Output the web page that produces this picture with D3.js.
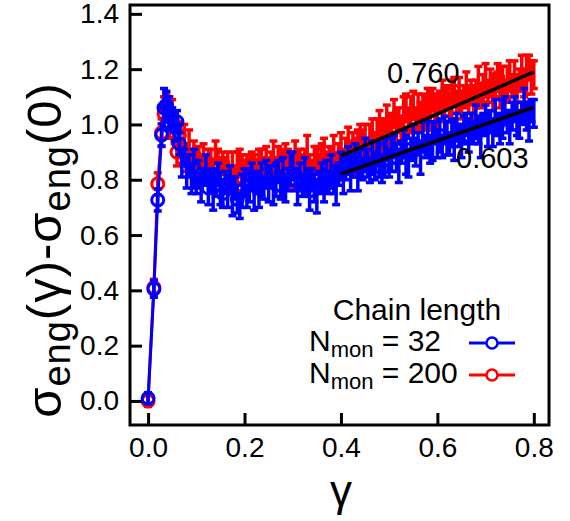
<!DOCTYPE html>
<html>
<head>
<meta charset="utf-8">
<script src="https://cdn.jsdelivr.net/npm/d3@7"></script>
<style>
  body { margin: 0; background: #fff; }
  svg { font-family: "Liberation Sans", Arial, Helvetica, sans-serif; }
</style>
</head>
<body>
<div id="chart"></div>
<script>
// strain values of the first (start-up) points
var gammaEarly = [0, 0.012, 0.02, 0.028, 0.033, 0.038, 0.044, 0.05, 0.055, 0.06];
// the rest is sampled every 0.005 from 0.065 to 0.8
var gammaDense = d3.range(0.065, 0.8001, 0.005);

// N_mon = 32 (blue)
var blueEarly = [0.01, 0.405, 0.727, 0.962, 1.06, 1.07, 1.04, 1.02, 0.99, 1.01];
var blueEarlyErr = [0.02, 0.03, 0.04, 0.04, 0.07, 0.05, 0.06, 0.04, 0.05, 0.04];
var blueDense = [
  0.93, 0.86, 0.88, 0.83, 0.85, 0.80, 0.84, 0.79, 0.82, 0.78,
  0.81, 0.84, 0.77, 0.80, 0.76, 0.79, 0.82, 0.77, 0.75, 0.79,
  0.76, 0.80, 0.74, 0.77, 0.73, 0.70, 0.76, 0.79, 0.74, 0.78,
  0.81, 0.76, 0.79, 0.75, 0.80, 0.77, 0.82, 0.78, 0.81, 0.76,
  0.80, 0.83, 0.78, 0.81, 0.77, 0.80, 0.84, 0.85, 0.80, 0.77,
  0.81, 0.78, 0.82, 0.79, 0.76, 0.80, 0.77, 0.74, 0.79, 0.81,
  0.78, 0.82, 0.79, 0.83, 0.80, 0.78, 0.82, 0.85, 0.81, 0.84,
  0.87, 0.82, 0.85, 0.88, 0.83, 0.86, 0.84, 0.89, 0.86, 0.83,
  0.88, 0.85, 0.90, 0.87, 0.84, 0.88, 0.91, 0.86, 0.89, 0.92,
  0.88, 0.85, 0.90, 0.93, 0.89, 0.86, 0.91, 0.94, 0.90, 0.93,
  0.88, 0.96, 0.92, 0.95, 0.91, 0.94, 0.97, 0.93, 0.96, 0.92,
  0.98, 0.95, 0.93, 0.97, 0.94, 0.99, 0.96, 0.94, 0.98, 1.00,
  0.96, 0.99, 0.97, 1.01, 0.98, 0.95, 1.00, 1.02, 0.98, 1.01,
  0.97, 1.03, 1.00, 0.98, 1.02, 1.05, 1.01, 0.99, 1.03, 1.06,
  1.02, 1.00, 1.04, 1.07, 1.03, 1.01, 1.05, 1.04
];
var blueDenseErr = [
  0.04, 0.05, 0.03, 0.06, 0.04, 0.05, 0.07, 0.04, 0.05, 0.06,
  0.03, 0.05, 0.06, 0.04, 0.07, 0.05, 0.04, 0.06, 0.05, 0.04,
  0.06, 0.05, 0.07, 0.04, 0.05, 0.04, 0.06, 0.05, 0.04, 0.06,
  0.05, 0.07, 0.04, 0.05, 0.06, 0.04, 0.05, 0.06, 0.04, 0.05,
  0.06, 0.04, 0.05, 0.07, 0.05, 0.04, 0.06, 0.05, 0.04, 0.06,
  0.05, 0.04, 0.06, 0.05, 0.07, 0.04, 0.05, 0.06, 0.04, 0.05,
  0.06, 0.05, 0.04, 0.06, 0.05, 0.07, 0.04, 0.05, 0.06, 0.04,
  0.05, 0.06, 0.04, 0.05, 0.07, 0.05, 0.04, 0.06, 0.05, 0.04,
  0.06, 0.05, 0.04, 0.06, 0.05, 0.07, 0.04, 0.05, 0.06, 0.04,
  0.05, 0.06, 0.04, 0.05, 0.07, 0.05, 0.04, 0.06, 0.05, 0.04,
  0.06, 0.05, 0.04, 0.06, 0.05, 0.07, 0.04, 0.05, 0.06, 0.04,
  0.05, 0.06, 0.04, 0.05, 0.07, 0.05, 0.04, 0.06, 0.05, 0.04,
  0.06, 0.05, 0.04, 0.06, 0.05, 0.07, 0.04, 0.05, 0.06, 0.04,
  0.05, 0.06, 0.04, 0.05, 0.07, 0.05, 0.04, 0.06, 0.05, 0.04,
  0.06, 0.05, 0.04, 0.06, 0.05, 0.07, 0.04, 0.05
];

// N_mon = 200 (red)
var redEarly = [0.0, 0.41, 0.785, 0.97, 1.04, 1.06, 1.0, 1.03, 0.97, 0.90];
var redEarlyErr = [0.02, 0.03, 0.04, 0.05, 0.06, 0.05, 0.05, 0.06, 0.04, 0.05];
var redDense = [
  0.96, 0.90, 0.94, 0.88, 0.91, 0.86, 0.89, 0.85, 0.88, 0.84,
  0.87, 0.83, 0.86, 0.84, 0.82, 0.90, 0.85, 0.83, 0.86, 0.82,
  0.85, 0.81, 0.84, 0.80, 0.83, 0.87, 0.84, 0.81, 0.85, 0.82,
  0.86, 0.83, 0.80, 0.84, 0.87, 0.83, 0.86, 0.82, 0.85, 0.88,
  0.84, 0.87, 0.83, 0.86, 0.89, 0.85, 0.82, 0.86, 0.88, 0.84,
  0.87, 0.83, 0.86, 0.89, 0.85, 0.82, 0.86, 0.88, 0.84, 0.87,
  0.90, 0.86, 0.83, 0.87, 0.89, 0.85, 0.88, 0.91, 0.87, 0.90,
  0.93, 0.89, 0.92, 0.88, 0.93, 0.96, 0.92, 0.95, 0.91, 0.94,
  0.97, 0.93, 0.96, 1.00, 0.95, 0.98, 1.02, 0.97, 1.00, 1.04,
  0.99, 1.02, 0.98, 1.03, 1.06, 1.01, 1.04, 1.07, 1.02, 1.05,
  1.03, 1.07, 1.04, 1.08, 1.05, 1.09, 1.06, 1.04, 1.08, 1.11,
  1.07, 1.10, 1.06, 1.09, 1.12, 1.08, 1.11, 1.07, 1.10, 1.13,
  1.09, 1.12, 1.08, 1.11, 1.14, 1.10, 1.13, 1.16, 1.12, 1.15,
  1.11, 1.14, 1.17, 1.13, 1.16, 1.12, 1.15, 1.18, 1.14, 1.17,
  1.13, 1.16, 1.19, 1.15, 1.18, 1.21, 1.17, 1.18
];
var redDenseErr = [
  0.05, 0.04, 0.06, 0.05, 0.07, 0.04, 0.05, 0.06, 0.04, 0.05,
  0.06, 0.04, 0.05, 0.07, 0.05, 0.04, 0.06, 0.05, 0.04, 0.06,
  0.05, 0.04, 0.06, 0.05, 0.07, 0.04, 0.05, 0.06, 0.04, 0.05,
  0.04, 0.06, 0.05, 0.07, 0.04, 0.05, 0.06, 0.04, 0.05, 0.06,
  0.04, 0.05, 0.07, 0.05, 0.04, 0.06, 0.05, 0.04, 0.06, 0.05,
  0.04, 0.06, 0.05, 0.07, 0.04, 0.05, 0.06, 0.04, 0.05, 0.06,
  0.05, 0.04, 0.06, 0.05, 0.07, 0.04, 0.05, 0.06, 0.04, 0.05,
  0.06, 0.04, 0.05, 0.07, 0.05, 0.04, 0.06, 0.05, 0.04, 0.06,
  0.05, 0.04, 0.06, 0.05, 0.07, 0.04, 0.05, 0.06, 0.04, 0.05,
  0.06, 0.04, 0.05, 0.07, 0.05, 0.04, 0.06, 0.05, 0.04, 0.06,
  0.05, 0.04, 0.06, 0.05, 0.07, 0.04, 0.05, 0.06, 0.04, 0.05,
  0.06, 0.04, 0.05, 0.07, 0.05, 0.04, 0.06, 0.05, 0.04, 0.06,
  0.05, 0.04, 0.06, 0.05, 0.07, 0.04, 0.05, 0.06, 0.04, 0.05,
  0.06, 0.04, 0.05, 0.07, 0.05, 0.04, 0.06, 0.05, 0.04, 0.06,
  0.05, 0.04, 0.06, 0.05, 0.07, 0.04, 0.06, 0.05
];

// power-law fit slopes drawn over 0.4 <= gamma <= 0.8
var fitNames = ["0.760", "0.603"];
var fitGamma = [0.4, 0.8];
var fitValues = [[0.886, 1.190], [0.821, 1.062]];

var xTicks = [0.0, 0.2, 0.4, 0.6, 0.8];
var yTicks = [0.0, 0.2, 0.4, 0.6, 0.8, 1.0, 1.2, 1.4];
var legendLabels = ["32", "200"];

function makeSeries(early, earlyErr, dense, denseErr) {
  var pts = [];
  gammaEarly.forEach(function(g, i) {
    pts.push({g: g, v: early[i], e: earlyErr[i], mark: true});
  });
  gammaDense.forEach(function(g, i) {
    pts.push({g: g, v: dense[i], e: denseErr[i], mark: i % 6 === 0});
  });
  return pts;
}

var series = [
  {name: "200", color: "#ff0000", data: makeSeries(redEarly, redEarlyErr, redDense, redDenseErr)},
  {name: "32", color: "#0000ff", data: makeSeries(blueEarly, blueEarlyErr, blueDense, blueDenseErr)}
];

var W = 570, H = 521;
var mLeft = 130, mRight = 549, mTop = 5, mBottom = 425;

var x = d3.scaleLinear().domain([-0.0375, 0.8315]).range([mLeft, mRight]);
var y = d3.scaleLinear().domain([-0.087, 1.432]).range([mBottom, mTop]);

var svg = d3.select("#chart").append("svg")
  .attr("width", W)
  .attr("height", H);

var plot = svg.append("g");

var line = d3.line()
  .x(function(d) { return x(d.g); })
  .y(function(d) { return y(d.v); });

series.forEach(function(s) {
  var g = plot.append("g");
  g.append("path")
    .datum(s.data)
    .attr("fill", "none")
    .attr("stroke", s.color)
    .attr("stroke-width", 3)
    .attr("d", line);

  // error bars
  var eb = g.selectAll(".eb").data(s.data).enter().append("g")
    .attr("stroke", s.color)
    .attr("stroke-width", 3.5);
  eb.append("line")
    .attr("x1", function(d) { return x(d.g); })
    .attr("x2", function(d) { return x(d.g); })
    .attr("y1", function(d) { return y(d.v - d.e); })
    .attr("y2", function(d) { return y(d.v + d.e); });
  eb.append("line")
    .attr("x1", function(d) { return x(d.g) - 4; })
    .attr("x2", function(d) { return x(d.g) + 4; })
    .attr("y1", function(d) { return y(d.v - d.e); })
    .attr("y2", function(d) { return y(d.v - d.e); });
  eb.append("line")
    .attr("x1", function(d) { return x(d.g) - 4; })
    .attr("x2", function(d) { return x(d.g) + 4; })
    .attr("y1", function(d) { return y(d.v + d.e); })
    .attr("y2", function(d) { return y(d.v + d.e); });

  g.selectAll("circle")
    .data(s.data.filter(function(d) { return d.mark; }))
    .enter().append("circle")
    .attr("cx", function(d) { return x(d.g); })
    .attr("cy", function(d) { return y(d.v); })
    .attr("r", 6)
    .attr("fill", "none")
    .attr("stroke", s.color)
    .attr("stroke-width", 3);
});

// fit lines
fitValues.forEach(function(fv) {
  plot.append("line")
    .attr("x1", x(fitGamma[0])).attr("y1", y(fv[0]))
    .attr("x2", x(fitGamma[1])).attr("y2", y(fv[1]))
    .attr("stroke", "#000")
    .attr("stroke-width", 3.5);
});

svg.append("text")
  .attr("x", 387).attr("y", 83)
  .attr("font-size", 29)
  .text(fitNames[0]);
svg.append("text")
  .attr("x", 456).attr("y", 168)
  .attr("font-size", 29)
  .text(fitNames[1]);

// axes
function styleAxis(g) {
  g.select(".domain").remove();
  g.selectAll("line").attr("stroke-width", 3);
  g.selectAll("text").attr("font-size", 28).attr("fill", "#000");
}

svg.append("g")
  .attr("transform", "translate(" + mLeft + ",0)")
  .call(d3.axisLeft(y).tickValues(yTicks).tickFormat(d3.format(".1f"))
    .tickSizeInner(-12).tickSizeOuter(0).tickPadding(11))
  .call(styleAxis)
  .attr("font-size", 28)
  .attr("font-family", "Liberation Sans, Arial, sans-serif");

svg.append("g")
  .attr("transform", "translate(0," + mBottom + ")")
  .call(d3.axisBottom(x).tickValues(xTicks).tickFormat(d3.format(".1f"))
    .tickSizeInner(-12).tickSizeOuter(0).tickPadding(12))
  .call(styleAxis)
  .attr("font-size", 28)
  .attr("font-family", "Liberation Sans, Arial, sans-serif");

// frame
svg.append("rect")
  .attr("x", mLeft).attr("y", mTop)
  .attr("width", mRight - mLeft).attr("height", mBottom - mTop)
  .attr("fill", "none")
  .attr("stroke", "#000")
  .attr("stroke-width", 3);

// axis titles
svg.append("text")
  .attr("x", x(0.4)).attr("y", 506)
  .attr("text-anchor", "middle")
  .attr("font-size", 44)
  .text("γ");

var yl = svg.append("text")
  .attr("transform", "translate(61,250) rotate(-90)")
  .attr("text-anchor", "middle")
  .attr("font-size", 49)
  .attr("letter-spacing", 1);
yl.append("tspan").text("σ");
yl.append("tspan").attr("font-size", 38).attr("dy", 9).text("eng");
yl.append("tspan").attr("dy", -9).text("(γ)-σ");
yl.append("tspan").attr("font-size", 38).attr("dy", 9).text("eng");
yl.append("tspan").attr("dy", -9).text("(0)");

// legend
var lg = svg.append("g");
lg.append("text")
  .attr("x", 417).attr("y", 320)
  .attr("text-anchor", "middle")
  .attr("font-size", 30)
  .text("Chain length");

var legendColors = ["#0000ff", "#ff0000"];
legendLabels.forEach(function(lab, i) {
  var yy = 351 + i * 32;
  var t = lg.append("text").attr("x", 309).attr("y", yy).attr("font-size", 30);
  t.append("tspan").text("N");
  t.append("tspan").attr("font-size", 22).attr("dy", 6).text("mon");
  t.append("tspan").attr("dy", -6).text(" = " + lab);
  lg.append("line")
    .attr("x1", 469).attr("x2", 515)
    .attr("y1", yy - 8).attr("y2", yy - 8)
    .attr("stroke", legendColors[i]).attr("stroke-width", 3);
  lg.append("circle")
    .attr("cx", 492).attr("cy", yy - 8).attr("r", 5.5)
    .attr("fill", "#fff")
    .attr("stroke", legendColors[i]).attr("stroke-width", 2.5);
});
</script>
</body>
</html>
